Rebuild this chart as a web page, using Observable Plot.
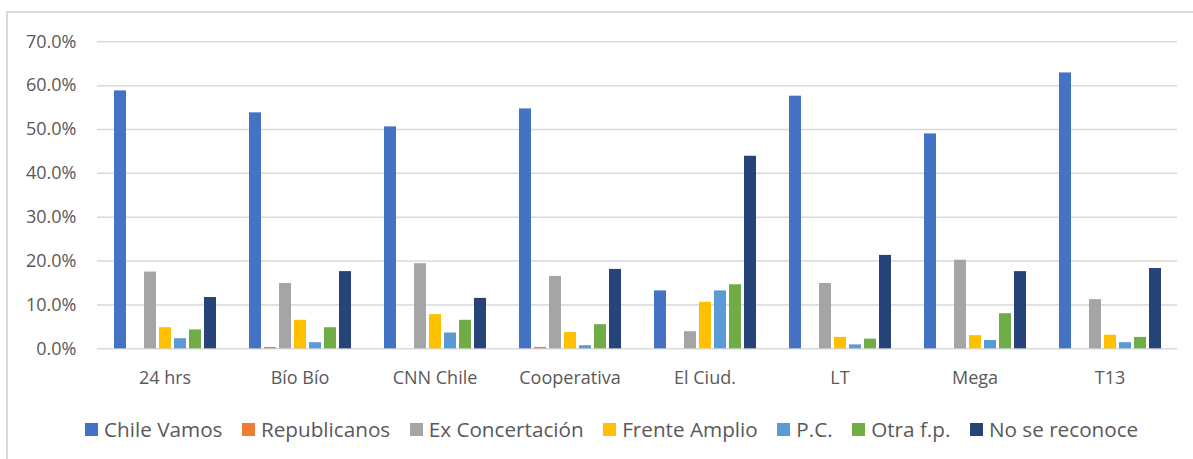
<!DOCTYPE html>
<html>
<head>
<meta charset="utf-8">
<script src="https://cdn.jsdelivr.net/npm/d3@7"></script>
<script src="https://cdn.jsdelivr.net/npm/@observablehq/plot@0.6"></script>
<style>
  html, body { margin: 0; padding: 0; background: #fff; }
  body { width: 1193px; height: 459px; position: relative; overflow: hidden; font-family: "Open Sans", sans-serif; }
  #frame { position: absolute; left: 6px; top: 11px; width: 1200px; height: 470px; border: 2px solid #d9d9d9; box-sizing: border-box; }
  #chart { position: absolute; left: 0; top: 0; }
  #legend { position: absolute; left: 85px; top: 415px; height: 28px; display: flex; align-items: center; gap: 19.5px; color: #595959; font-size: 20.7px; white-space: nowrap; }
  #legend .item { display: flex; align-items: center; gap: 6px; }
  #legend .sw { width: 13px; height: 13px; display: inline-block; }
</style>
</head>
<body>
<div id="frame"></div>
<div id="chart"></div>
<div id="legend"></div>
<script>
const categories = ["24 hrs", "Bío Bío", "CNN Chile", "Cooperativa", "El Ciud.", "LT", "Mega", "T13"];
const series = ["Chile Vamos", "Republicanos", "Ex Concertación", "Frente Amplio", "P.C.", "Otra f.p.", "No se reconoce"];
const colors = ["#4472C4", "#ED7D31", "#A5A5A5", "#FFC000", "#5B9BD5", "#70AD47", "#264478"];

const chileVamos     = [58.8, 53.8, 50.6, 54.7, 13.2, 57.6, 49.0, 62.9];
const republicanos   = [0.0, 0.3, 0.0, 0.3, 0.0, 0.0, 0.0, 0.0];
const exConcertacion = [17.5, 14.9, 19.4, 16.5, 3.9, 14.9, 20.2, 11.2];
const frenteAmplio   = [4.8, 6.5, 7.8, 3.7, 10.6, 2.6, 3.0, 3.1];
const pc             = [2.3, 1.4, 3.6, 0.7, 13.2, 0.9, 1.9, 1.4];
const otraFp         = [4.3, 4.8, 6.5, 5.5, 14.6, 2.2, 8.0, 2.6];
const noSeReconoce   = [11.7, 17.6, 11.5, 18.1, 43.9, 21.3, 17.6, 18.3];
const yTicks = [0, 10, 20, 30, 40, 50, 60, 70];

const seriesValues = [chileVamos, republicanos, exConcertacion, frenteAmplio, pc, otraFp, noSeReconoce];
const rows = [];
categories.forEach((c, i) => {
  series.forEach((s, j) => rows.push({medio: c, partido: s, valor: seriesValues[j][i]}));
});

const chart = Plot.plot({
  width: 1193,
  height: 395,
  marginLeft: 97,
  marginRight: 15.5,
  marginTop: 41.3,
  marginBottom: 46.7,
  style: {fontFamily: "Open Sans, sans-serif", color: "#595959", background: "transparent"},
  fx: {domain: categories, padding: 0, label: null},
  x: {domain: series, paddingInner: 0.22, paddingOuter: 0.885, axis: null},
  y: {domain: [0, 70], axis: null},
  color: {domain: series, range: colors},
  marks: [
    Plot.ruleY(yTicks, {stroke: "#d9d9d9", strokeWidth: 1.5}),
    Plot.barY(rows, {fx: "medio", x: "partido", y: "valor", fill: "partido"}),
    Plot.axisY(yTicks, {tickSize: 0, tickPadding: 21, fontSize: 18, tickFormat: d => d.toFixed(1) + "%", label: null, fill: "#595959"}),
    Plot.axisFx({anchor: "bottom", tickSize: 0, tickPadding: 22, fontSize: 18, label: null, fill: "#595959"})
  ]
});
document.getElementById("chart").appendChild(chart);

const legend = document.getElementById("legend");
series.forEach((s, j) => {
  const item = document.createElement("span");
  item.className = "item";
  const sw = document.createElement("span");
  sw.className = "sw";
  sw.style.background = colors[j];
  const label = document.createElement("span");
  label.textContent = s;
  item.appendChild(sw);
  item.appendChild(label);
  legend.appendChild(item);
});
</script>
</body>
</html>
